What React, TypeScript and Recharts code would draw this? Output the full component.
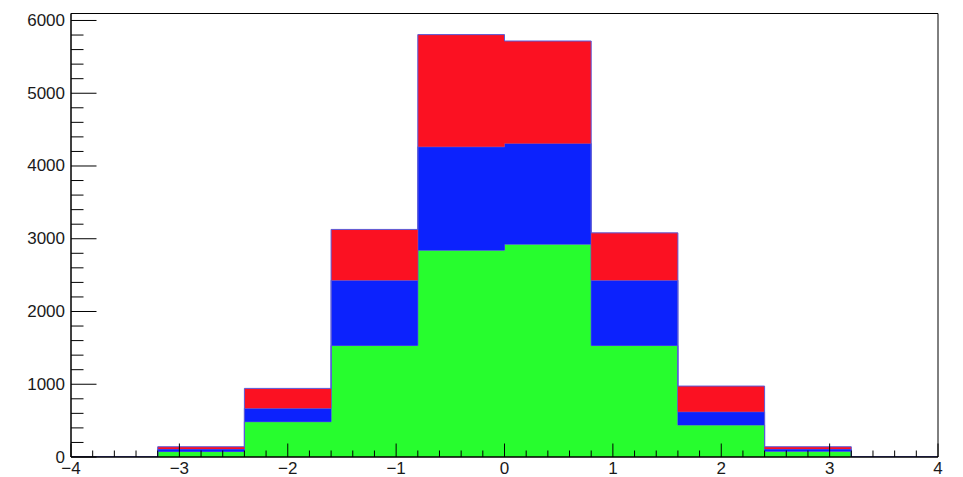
import { ComposedChart, Area, XAxis, YAxis, ReferenceArea } from "recharts";

// histogram bin edges (10 bins of width 0.8)
const binEdges = [-4, -3.2, -2.4, -1.6, -0.8, 0, 0.8, 1.6, 2.4, 3.2, 4];

// per-histogram bin contents (stacked: green bottom, blue middle, red top)
const greenCounts = [3, 75, 485, 1532, 2843, 2926, 1532, 440, 78, 3];
const blueCounts = [1, 35, 184, 898, 1421, 1383, 898, 182, 32, 1];
const redCounts = [1, 31, 274, 698, 1542, 1409, 651, 353, 31, 1];

const xMajorTicks = [-4, -3, -2, -1, 0, 1, 2, 3, 4];
const yMajorTicks = [0, 1000, 2000, 3000, 4000, 5000, 6000];

const yMax = 6096;

const xTicks: number[] = [];
for (let i = 0; i <= 40; i++) xTicks.push(Math.round((-4 + i * 0.2) * 10) / 10);
const yTicks: number[] = [];
for (let v = 0; v <= 6000; v += 200) yTicks.push(v);

// stepAfter needs one trailing point at the last edge
const data = binEdges.map((x, i) => {
  const k = Math.min(i, greenCounts.length - 1);
  return { x, green: greenCounts[k], blue: blueCounts[k], red: redCounts[k] };
});

const fmt = (v: number) => (v < 0 ? `\u2212${Math.abs(v)}` : String(v));
const labelStyle = { fontFamily: "'Liberation Sans', Arial, sans-serif", fontSize: 17, fill: "#1a1a1a" };

const XTick = (props: any) => {
  const { x, y, payload } = props;
  const major = xMajorTicks.includes(payload.value);
  return (
    <g>
      <line x1={x} x2={x} y1={y} y2={y - (major ? 13.5 : 6.5)} stroke="#000" strokeWidth={1} />
      {major && (
        <text x={x} y={y + 16.5} textAnchor="middle" {...labelStyle}>
          {fmt(payload.value)}
        </text>
      )}
    </g>
  );
};

const YTick = (props: any) => {
  const { x, y, payload } = props;
  const major = yMajorTicks.includes(payload.value);
  return (
    <g>
      <line x1={x} x2={x + (major ? 25.5 : 12.5)} y1={y} y2={y} stroke="#000" strokeWidth={1} />
      {major && (
        <text x={x - 6} y={y + 5.5} textAnchor="end" {...labelStyle}>
          {payload.value}
        </text>
      )}
    </g>
  );
};

export default function App() {
  return (
    <div style={{ position: "absolute", left: 0, top: 0, background: "#fff" }}>
      <ComposedChart
        width={963}
        height={477}
        data={data}
        margin={{ top: 13.5, right: 25, left: 0, bottom: 0 }}
      >
        <XAxis
          dataKey="x"
          type="number"
          domain={[-4, 4]}
          ticks={xTicks}
          interval={0}
          height={20}
          tickSize={0}
          tickMargin={0}
          tick={<XTick />}
          axisLine={{ stroke: "#000" }}
          allowDataOverflow
        />
        <YAxis
          type="number"
          domain={[0, yMax]}
          ticks={yTicks}
          interval={0}
          width={71}
          tickSize={0}
          tickMargin={0}
          tick={<YTick />}
          axisLine={{ stroke: "#000" }}
          allowDataOverflow
        />
        <Area
          type="stepAfter"
          dataKey="green"
          stackId="s"
          fill="#27fd2e"
          fillOpacity={1}
          stroke="#5a5ad8"
          strokeWidth={1}
          dot={false}
          activeDot={false}
          isAnimationActive={false}
        />
        <Area
          type="stepAfter"
          dataKey="blue"
          stackId="s"
          fill="#0c22fd"
          fillOpacity={1}
          stroke="#5a5ad8"
          strokeWidth={1}
          dot={false}
          activeDot={false}
          isAnimationActive={false}
        />
        <Area
          type="stepAfter"
          dataKey="red"
          stackId="s"
          fill="#fb1122"
          fillOpacity={1}
          stroke="#5a5ad8"
          strokeWidth={1}
          dot={false}
          activeDot={false}
          isAnimationActive={false}
        />
        <ReferenceArea x1={-4} x2={4} y1={0} y2={yMax} fill="none" stroke="#000" strokeWidth={1} ifOverflow="visible" />
      </ComposedChart>
    </div>
  );
}
